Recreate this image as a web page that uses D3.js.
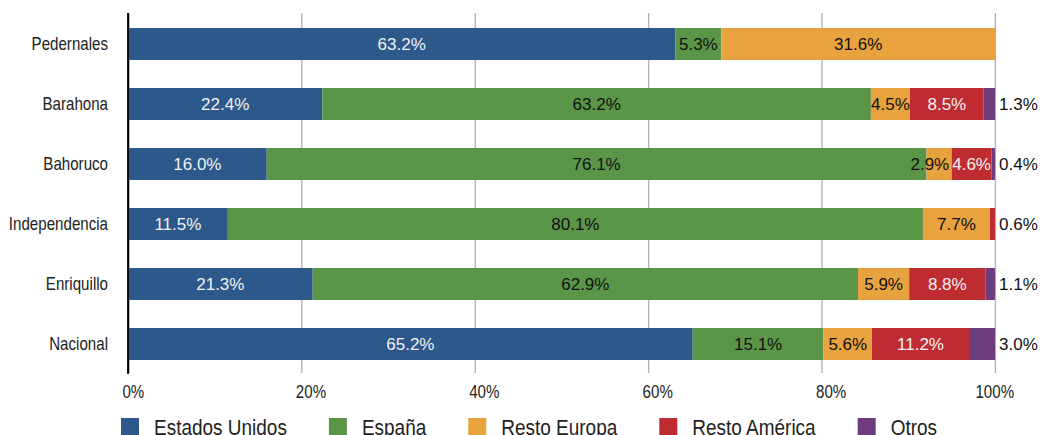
<!DOCTYPE html>
<html>
<head>
<meta charset="utf-8">
<script src="https://cdnjs.cloudflare.com/ajax/libs/d3/7.8.5/d3.min.js"></script>
<style>
  body { margin: 0; background: #fff; }
  svg { display: block; }
  text { font-family: "Liberation Sans", Arial, Helvetica, sans-serif; }
</style>
</head>
<body>
<script>
// data
var categories = ["Pedernales", "Barahona", "Bahoruco", "Independencia", "Enriquillo", "Nacional"];
var seriesNames = ["Estados Unidos", "España", "Resto Europa", "Resto América", "Otros"];
var estadosUnidos = [63.2, 22.4, 16.0, 11.5, 21.3, 65.2];
var espana        = [5.3, 63.2, 76.1, 80.1, 62.9, 15.1];
var restoEuropa   = [31.6, 4.5, 2.9, 7.7, 5.9, 5.6];
var restoAmerica  = [0, 8.5, 4.6, 0.6, 8.8, 11.2];
var otros         = [0, 1.3, 0.4, 0, 1.1, 3.0];
var tickValues = [0, 20, 40, 60, 80, 100];

var colors = ["#2d588c", "#5b9648", "#e8a23e", "#be2c32", "#6e3c7d"];
var labelColors = ["#f2f2f2", "#111", "#111", "#f2f2f2", "#111"];

var w = 1043, h = 435;
var sx = 0.84; // axis and legend text in the reference is squeezed sideways

var table = categories.map(function(c, i) {
  return {
    cat: c,
    "Estados Unidos": estadosUnidos[i],
    "España": espana[i],
    "Resto Europa": restoEuropa[i],
    "Resto América": restoAmerica[i],
    "Otros": otros[i]
  };
});

var stacked = d3.stack().keys(seriesNames).offset(d3.stackOffsetExpand)(table);

var svg = d3.select("body").append("svg").attr("width", w).attr("height", h);
var g = svg.append("g").attr("transform", "scale(" + sx + ",1)");

// x in screen pixels; xs is the same scale inside the squeezed group
var x = d3.scaleLinear().domain([0, 100]).range([128, 995]);
var xs = d3.scaleLinear().domain([0, 100]).range([128 / sx, 995 / sx]);
var y = d3.scaleBand().domain(categories).range([14, 374])
  .paddingInner(28 / 60).paddingOuter(14 / 60);

// grid + x labels
var xAxis = g.append("g")
  .attr("transform", "translate(0,373)")
  .call(d3.axisBottom(xs).tickValues(tickValues).tickFormat(function(d) { return d + "%"; })
    .tickSize(-360).tickPadding(12));
xAxis.select(".domain").remove();
xAxis.selectAll(".tick line")
  .attr("stroke", function(d) { return d === 0 ? "#000" : "#b0b0b0"; })
  .attr("stroke-width", function(d) { return d === 0 ? 2 : 1.6; });
xAxis.selectAll(".tick text")
  .attr("font-size", 18)
  .attr("fill", "#222")
  .attr("text-anchor", "start")
  .attr("x", function(d) { return (d === 100 ? -20 : -6) / sx; });

// bars
var layer = svg.append("g").selectAll("g")
  .data(stacked)
  .enter().append("g")
  .attr("fill", function(d, i) { return colors[i]; });

layer.selectAll("rect")
  .data(function(d) { return d; })
  .enter().append("rect")
  .attr("x", function(d) { return x(d[0] * 100); })
  .attr("y", function(d) { return y(d.data.cat); })
  .attr("width", function(d) { return x(d[1] * 100) - x(d[0] * 100); })
  .attr("height", y.bandwidth());

// category labels
var g2 = svg.append("g").attr("transform", "scale(" + sx + ",1)");
var yAxis = g2.append("g")
  .attr("transform", "translate(" + xs(0) + ",0)")
  .call(d3.axisLeft(y).tickSize(0).tickPadding(20 / sx));
yAxis.select(".domain").remove();
yAxis.selectAll(".tick text").attr("font-size", 18).attr("fill", "#222");
svg.append("line")
  .attr("x1", x(0)).attr("x2", x(0))
  .attr("y1", 13).attr("y2", 374)
  .attr("stroke", "#000").attr("stroke-width", 1.7);

// value labels (normal width text)
var lab = svg.append("g");
categories.forEach(function(c, i) {
  var last = -1;
  seriesNames.forEach(function(s, j) { if (table[i][s] > 0) last = j; });
  var row = [];
  stacked.forEach(function(ser, j) {
    var d = ser[i];
    var v = table[i][seriesNames[j]];
    if (!(v > 0)) return;
    var outside = j === last && v < 4;
    var t = lab.append("text")
      .attr("x", outside ? x(100) + 4 : (x(d[0] * 100) + x(d[1] * 100)) / 2)
      .attr("y", y(c) + y.bandwidth() / 2)
      .attr("dy", "0.37em")
      .attr("text-anchor", outside ? "start" : "middle")
      .attr("font-size", 17)
      .attr("fill", outside ? "#111" : labelColors[j])
      .text(v.toFixed(1) + "%");
    if (!outside) row.push(t);
  });
  // push crowded labels left so they do not overlap
  for (var k = row.length - 2; k >= 0; k--) {
    var a = row[k].node().getBBox(), b = row[k + 1].node().getBBox();
    var over = a.x + a.width + 3 - b.x;
    if (over > 0) row[k].attr("x", +row[k].attr("x") - over);
  }
});

// legend
var lx = 121 / sx;
seriesNames.forEach(function(s, i) {
  g.append("rect")
    .attr("x", lx).attr("y", 418)
    .attr("width", 18 / sx).attr("height", 18)
    .attr("fill", colors[i]);
  var t = g.append("text")
    .attr("x", lx + 33 / sx).attr("y", 435)
    .attr("font-size", 22.6).attr("fill", "#222")
    .text(s);
  lx = lx + 33 / sx + t.node().getComputedTextLength() + 42 / sx;
});
</script>
</body>
</html>
